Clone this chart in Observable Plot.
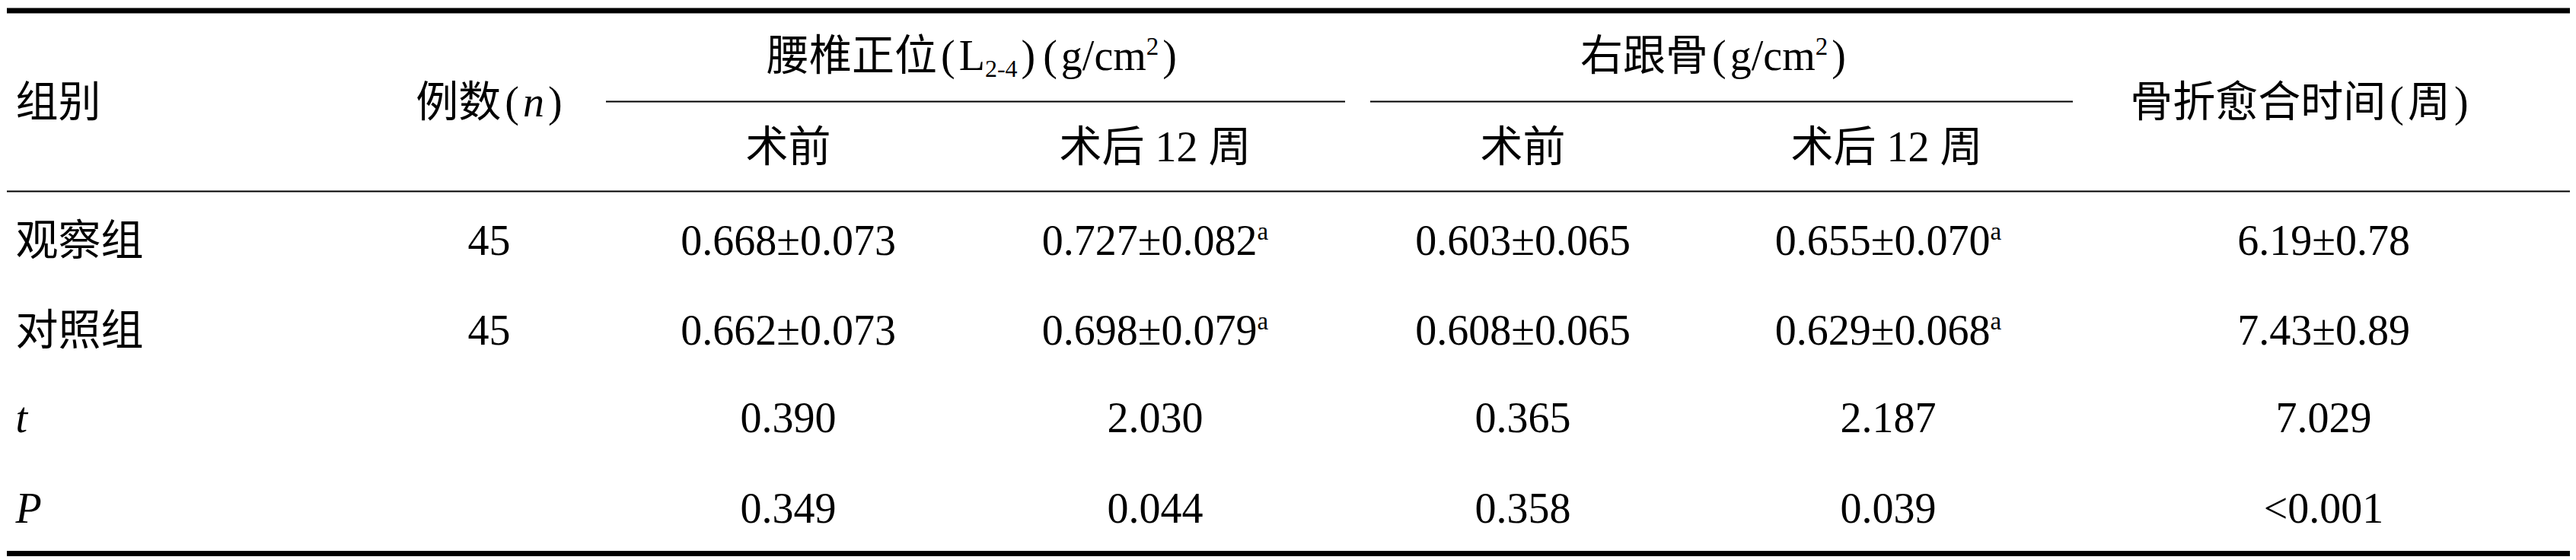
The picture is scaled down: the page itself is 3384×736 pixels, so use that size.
<!DOCTYPE html>
<html>
<head>
<meta charset="utf-8">
<script src="https://cdn.jsdelivr.net/npm/d3@7"></script>
<script src="https://cdn.jsdelivr.net/npm/@observablehq/plot@0.6"></script>
<style>
  html, body { margin: 0; padding: 0; background: #fff; }
  svg { display: block; }
</style>
</head>
<body>
<div id="chart"></div>
<script>
// ---- data (markup: ^{..} superscript, _{..} subscript, *{..} italic) ----
const groups     = ["观察组", "对照组", "*{t}", "*{P}"];
const nCounts    = ["45", "45", "", ""];
const lumbarPre  = ["0.668±0.073", "0.662±0.073", "0.390", "0.349"];
const lumbarPost = ["0.727±0.082^{a}", "0.698±0.079^{a}", "2.030", "0.044"];
const calcPre    = ["0.603±0.065", "0.608±0.065", "0.365", "0.358"];
const calcPost   = ["0.655±0.070^{a}", "0.629±0.068^{a}", "2.187", "0.039"];
const healing    = ["6.19±0.78", "7.43±0.89", "7.029", "<0.001"];

const spanHeaders  = ["组别", "例数(*{n})", "骨折愈合时间(周)"];
const groupHeaders = ["腰椎正位(L_{2-4})(g/cm^{2})", "右跟骨(g/cm^{2})"];
const subHeaders   = ["术前", "术后 12 周", "术前", "术后 12 周"];

// ---- layout ----
const W = 3384, H = 736, FS = 56;
const FONT = "'Liberation Serif', 'Noto Sans CJK SC', serif";
const colX = [20, 642, 1035, 1517, 2000, 2480, 3052];
const rowY = [317, 435, 550, 669];
const spanX = [20, 642, 3020], spanY = 135;
const groupX = [1276, 2250], groupY = 74;
const subX = [1035, 1517, 2000, 2478], subY = 194;
const rules = [
  {x1: 9, x2: 3376, y: 13.5, w: 7},
  {x1: 796, x2: 1767, y: 133, w: 2},
  {x1: 1800, x2: 2723, y: 133, w: 2},
  {x1: 9, x2: 3376, y: 251, w: 2},
  {x1: 9, x2: 3376, y: 727, w: 7}
];

const valueCols = [nCounts, lumbarPre, lumbarPost, calcPre, calcPost, healing];
const cells = valueCols.flatMap((col, c) => col.map((v, r) => ({x: colX[c + 1], y: rowY[r], label: v})));
const firstCol = groups.map((g, r) => ({x: colX[0], y: rowY[r], label: g}));
const spanCells = spanHeaders.map((t, i) => ({x: spanX[i], y: spanY, label: t}));
const groupCells = groupHeaders.map((t, i) => ({x: groupX[i], y: groupY, label: t}));
const subCells = subHeaders.map((t, i) => ({x: subX[i], y: subY, label: t}));

const textOpts = {x: "x", y: "y", text: "label", fontSize: FS, fontFamily: FONT, fill: "#000", lineAnchor: "middle"};

const plot = Plot.plot({
  width: W, height: H,
  margin: 0,
  x: {type: "linear", domain: [0, W], range: [0, W], axis: null},
  y: {type: "linear", domain: [0, H], range: [0, H], axis: null},
  style: {background: "#fff", overflow: "visible"},
  marks: [
    ...rules.map(r => Plot.ruleY([r], {y: "y", x1: "x1", x2: "x2", stroke: "#000", strokeWidth: r.w})),
    Plot.text(firstCol, {...textOpts, textAnchor: "start"}),
    Plot.text(cells, {...textOpts, textAnchor: "middle"}),
    Plot.text([spanCells[0]], {...textOpts, textAnchor: "start"}),
    Plot.text(spanCells.slice(1), {...textOpts, textAnchor: "middle"}),
    Plot.text(groupCells, {...textOpts, textAnchor: "middle"}),
    Plot.text(subCells, {...textOpts, textAnchor: "middle"})
  ]
});

// rich text post-processing (super/subscripts, italics, wider parentheses)
const NS = "http://www.w3.org/2000/svg";
const PAD = 5;
function richify(el) {
  const s = el.textContent;
  if (!/[\^_*]\{|[()]/.test(s)) return;
  while (el.firstChild) el.removeChild(el.firstChild);
  const re = /([\^_*])\{([^}]*)\}/g;
  let last = 0, m, shift = 0, pendingDx = 0;
  const emit = (txt, kind) => {
    const t = document.createElementNS(NS, "tspan");
    t.textContent = txt;
    let target = 0;
    if (kind === "^") { target = -20; t.setAttribute("font-size", 33); }
    else if (kind === "_") { target = 9; t.setAttribute("font-size", 32); }
    else if (kind === "*") { t.setAttribute("font-style", "italic"); }
    if (target !== shift) { t.setAttribute("dy", target - shift); shift = target; }
    if (pendingDx) { t.setAttribute("dx", pendingDx); pendingDx = 0; }
    el.appendChild(t);
  };
  const add = (txt, kind) => {
    if (!txt) return;
    const parts = txt.split(/([()])/);
    for (const p of parts) {
      if (!p) continue;
      if (p === "(" || p === ")") {
        pendingDx += PAD;
        emit(p, kind);
        pendingDx += PAD;
      } else emit(p, kind);
    }
  };
  while ((m = re.exec(s)) !== null) {
    add(s.slice(last, m.index), "");
    add(m[2], m[1]);
    last = re.lastIndex;
  }
  add(s.slice(last), "");
}
plot.querySelectorAll("text").forEach(richify);

document.getElementById("chart").appendChild(plot);
</script>
</body>
</html>
